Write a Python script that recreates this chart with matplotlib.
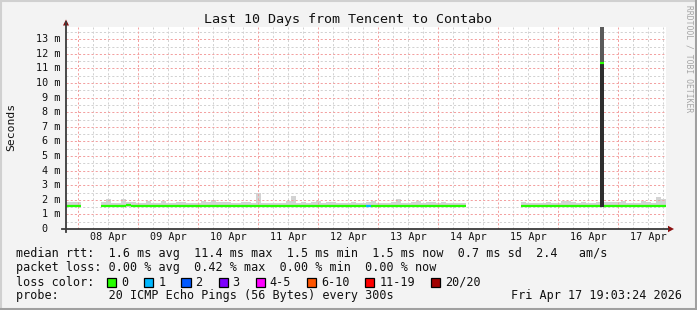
import numpy as np
import matplotlib
matplotlib.use("Agg")
import matplotlib.pyplot as plt
from matplotlib.patches import Rectangle, Polygon
from matplotlib.lines import Line2D

# ---------------- data ----------------
title = "Last 10 Days from Tencent to Contabo"
ylabel = "Seconds"
day_labels = ["08 Apr", "09 Apr", "10 Apr", "11 Apr", "12 Apr",
              "13 Apr", "14 Apr", "15 Apr", "16 Apr", "17 Apr"]
ytick_values = [0, 1, 2, 3, 4, 5, 6, 7, 8, 9, 10, 11, 12, 13]
ytick_labels = ["0  ", "1 m", "2 m", "3 m", "4 m", "5 m", "6 m", "7 m",
                "8 m", "9 m", "10 m", "11 m", "12 m", "13 m"]

# time in hours relative to 08 Apr 00:00
view_start_h = -4.94   # Apr 7 19:03:24
view_end_h = 235.06    # Apr 17 19:03:24
bin_first_h = -5
bin_len_h = 2

nan = np.nan
# median rtt per 2 h bin (ms), nan = no data
median_ms = [
    1.59, 1.59, 1.59, nan, nan, nan, nan, 1.59, 1.59, 1.59,
    1.59, 1.59, 1.62, 1.59, 1.59, 1.59, 1.59, 1.59, 1.59, 1.59,
    1.59, 1.59, 1.59, 1.59, 1.59, 1.59, 1.59, 1.59, 1.59, 1.59,
    1.59, 1.59, 1.59, 1.59, 1.59, 1.59, 1.59, 1.59, 1.59, 1.59,
    1.59, 1.59, 1.59, 1.59, 1.59, 1.59, 1.59, 1.59, 1.59, 1.59,
    1.59, 1.59, 1.59, 1.59, 1.59, 1.59, 1.59, 1.59, 1.59, 1.59,
    1.59, 1.59, 1.59, 1.59, 1.59, 1.59, 1.59, 1.59, 1.59, 1.59,
    1.59, 1.59, 1.59, 1.59, 1.59, 1.59, 1.59, 1.59, 1.59, 1.59,
    nan, nan, nan, nan, nan, nan, nan, nan, nan, nan,
    nan, 1.59, 1.59, 1.59, 1.59, 1.59, 1.59, 1.59, 1.59, 1.59,
    1.59, 1.59, 1.59, 1.59, 1.59, 1.59, 1.59, 1.59, 1.59, 1.59,
    1.59, 1.59, 1.59, 1.59, 1.59, 1.59, 1.59, 1.59, 1.59, 1.59,
]
# upper edge of the smoke per bin (ms)
smoke_top_ms = [
    1.87, 1.83, 1.83, nan, nan, nan, nan, 1.85, 2.03, 1.78,
    1.78, 2.08, 1.83, 1.83, 1.80, 1.76, 1.94, 1.76, 1.78, 1.90,
    1.80, 1.78, 1.83, 1.87, 1.80, 1.80, 1.80, 1.90, 1.87, 1.99,
    1.85, 1.83, 1.82, 1.80, 1.80, 1.85, 1.82, 1.78, 2.49, 1.78,
    1.76, 1.78, 1.80, 1.78, 1.90, 2.26, 1.80, 1.85, 1.80, 1.85,
    1.93, 1.80, 1.85, 1.85, 1.78, 1.80, 1.78, 1.85, 1.80, 1.78,
    1.85, 1.93, 1.80, 1.78, 1.80, 1.82, 2.03, 1.80, 1.80, 1.86,
    1.90, 1.80, 1.82, 1.85, 1.80, 1.84, 1.80, 1.78, 1.80, 1.78,
    nan, nan, nan, nan, nan, nan, nan, nan, nan, nan,
    nan, 1.85, 1.78, 1.78, 1.80, 1.78, 1.85, 1.80, 1.80, 1.90,
    1.90, 1.88, 1.80, 1.82, 1.80, 1.80, 1.82, 1.87, 1.87, 1.85,
    1.84, 1.94, 1.80, 1.78, 1.80, 1.94, 1.82, 1.80, 2.19, 2.05,
]
# lost pings (of 20) per bin
loss_count = [0] * 60 + [1] + [0] * 59

# single outlier burst on 16 Apr
spike_start_h = [208.8]
spike_end_h = [210.2]
spike_median_ms = [11.4]
spike_max_ms = [14.5]

legend_rows = [
    "median rtt:  1.6 ms avg  11.4 ms max  1.5 ms min  1.5 ms now  0.7 ms sd  2.4   am/s",
    "packet loss: 0.00 % avg  0.42 % max  0.00 % min  0.00 % now",
]
loss_labels = ["0", "1", "2", "3", "4-5", "6-10", "11-19", "20/20"]
loss_colors = ["#26ff00", "#00b8ff", "#0059ff", "#7e00ff", "#ff00ff",
               "#ff5500", "#ff0000", "#a10000"]
loss_bins = [0, 1, 2, 3, 5, 10, 19, 20]  # upper bound of each class
probe_text = "probe:       20 ICMP Echo Pings (56 Bytes) every 300s"
date_text = "Fri Apr 17 19:03:24 2026"
watermark = "RRDTOOL / TOBI OETIKER"

# ---------------- figure ----------------
W, H = 697, 310
BG = "#f3f3f3"
MONO = "DejaVu Sans Mono"
plt.rcParams["font.family"] = MONO
plt.rcParams["lines.scale_dashes"] = False

fig = plt.figure(figsize=(W / 100, H / 100), dpi=100, facecolor=BG)


def fx(x):
    return x / W


def fy(y):
    return 1 - y / H


PL, PR, PT, PB = 66, 666, 27, 229
ax = fig.add_axes([fx(PL), fy(PB), fx(PR - PL), (PB - PT) / H])
ax.set_facecolor("white")
ax.set_xlim(view_start_h, view_end_h)
px_per_ms = 14.6
ax.set_ylim(0, (PB - PT) / px_per_ms)
for s in ax.spines.values():
    s.set_visible(False)
ax.set_xticks([])
ax.set_yticks([])

hours = bin_first_h + bin_len_h * np.arange(len(median_ms))
med = np.array(median_ms, dtype=float)
top = np.array(smoke_top_ms, dtype=float)

# smoke
for h, m, t in zip(hours, med, top):
    if np.isnan(m):
        continue
    ax.add_patch(Rectangle((h, m - 0.08), bin_len_h, t - m + 0.08,
                           facecolor="#d3d3d3", edgecolor="none",
                           zorder=1, linewidth=0))

# grid (drawn over smoke)
xmin, xmax = ax.get_xlim()
ymin, ymax = ax.get_ylim()
minor_x = [h for h in range(-6, 240, 6) if h % 24 != 0 and xmin < h < xmax]
major_x = [h for h in range(0, 240, 24) if xmin < h < xmax]
minor_y = [v + 0.5 for v in range(0, 14) if v + 0.5 < ymax]
major_y = [v for v in ytick_values if v > 0]
dash = (0, (1.5, 1.5))
for h in minor_x:
    ax.axvline(h, color="#d2d2d2", lw=0.72, ls=dash, zorder=2)
for v in minor_y:
    ax.axhline(v, color="#d2d2d2", lw=0.72, ls=dash, zorder=2)
for h in major_x:
    ax.axvline(h, color="#f3a0a0", lw=0.72, ls=dash, zorder=2.1)
for v in major_y:
    ax.axhline(v, color="#f3a0a0", lw=0.72, ls=dash, zorder=2.1)


def loss_color(n):
    for b, c in zip(loss_bins, loss_colors):
        if n <= b:
            return c
    return loss_colors[-1]


# median line coloured by loss
for h, m, n in zip(hours, med, loss_count):
    if np.isnan(m):
        continue
    ax.hlines(m, h, h + bin_len_h, colors=loss_color(n), lw=1.6,
              zorder=3, capstyle="butt")

# outlier burst
for s0, s1, m, mx in zip(spike_start_h, spike_end_h, spike_median_ms, spike_max_ms):
    ax.add_patch(Rectangle((s0, m), s1 - s0, mx - m, facecolor="#5a5a5a",
                           edgecolor="none", zorder=4))
    ax.add_patch(Rectangle((s0, 1.5), s1 - s0, m - 1.5, facecolor="#2e2e2e",
                           edgecolor="none", zorder=4))
    ax.hlines(m, s0, s1, colors=loss_colors[0], lw=1.6, zorder=5,
              capstyle="butt")

# ---------------- axes decoration ----------------
AX_COL = "#3a3a3a"
ARROW = "#8b1010"
fig.add_artist(Line2D([fx(PL), fx(PL)], [fy(PB + 3), fy(PT - 5)],
                      color=AX_COL, lw=1.3, transform=fig.transFigure))
fig.add_artist(Line2D([fx(PL - 4), fx(PR + 2)], [fy(PB), fy(PB)],
                      color=AX_COL, lw=1.3, transform=fig.transFigure))
fig.add_artist(Polygon([(fx(PL - 3), fy(PT - 1.5)), (fx(PL + 3), fy(PT - 1.5)),
                        (fx(PL), fy(PT - 7.5))], closed=True,
                       facecolor=ARROW, edgecolor="none",
                       transform=fig.transFigure))
fig.add_artist(Polygon([(fx(PR + 2), fy(PB - 3.2)), (fx(PR + 2), fy(PB + 3.2)),
                        (fx(PR + 8), fy(PB))], closed=True,
                       facecolor=ARROW, edgecolor="none",
                       transform=fig.transFigure))

# y tick labels
for v, lab in zip(ytick_values, ytick_labels):
    ypix = PB - v * px_per_ms
    fig.text(fx(60.5), fy(ypix), lab, ha="right", va="center",
             fontsize=7.3, family=MONO, color="#111111")

# x tick labels (centred at noon)
for i, lab in enumerate(day_labels):
    h = 12 + 24 * i
    xpix = PL + (h - view_start_h) / (view_end_h - view_start_h) * (PR - PL)
    fig.text(fx(xpix), fy(237.5), lab, ha="center", va="center",
             fontsize=7.3, family=MONO, color="#111111")

# title / axis label / watermark
fig.text(fx(348), fy(19.5), title, ha="center", va="center",
         fontsize=9.6, family=MONO, color="#111111")
fig.text(fx(11), fy(127), ylabel, ha="center", va="center", rotation=90,
         fontsize=8.2, family=MONO, color="#111111")
fig.text(fx(688.5), fy(5), watermark, ha="center", va="top", rotation=-90,
         fontsize=5.8, family=MONO, color="#a5a5a5")

# legend
CW = 7.1
LFS = 8.5
rows_y = [254, 268, 282, 296]
for txt, yy in zip(legend_rows, rows_y[:2]):
    fig.text(fx(16), fy(yy), txt, ha="left", va="center", fontsize=LFS,
             family=MONO, color="#111111")
fig.text(fx(16), fy(rows_y[2]), "loss color:", ha="left", va="center",
         fontsize=LFS, family=MONO, color="#111111")
sx = 16 + 13 * CW - 1
for lab, col in zip(loss_labels, loss_colors):
    fig.add_artist(Rectangle((fx(sx), fy(rows_y[2] + 4.5)), 9 / W, 9 / H,
                             facecolor=col, edgecolor="black", lw=0.9,
                             transform=fig.transFigure))
    tx = sx + 14
    fig.text(fx(tx), fy(rows_y[2]), lab, ha="left", va="center",
             fontsize=LFS, family=MONO, color="#111111")
    sx = tx + len(lab) * CW + 16
fig.text(fx(16), fy(rows_y[3]), probe_text, ha="left", va="center",
         fontsize=LFS, family=MONO, color="#111111")
fig.text(fx(682), fy(rows_y[3]), date_text, ha="right", va="center",
         fontsize=LFS, family=MONO, color="#111111")

# 3-D frame
fig.add_artist(Line2D([0, 1], [fy(1), fy(1)], color="#d0d0d0", lw=1.5,
                      transform=fig.transFigure))
fig.add_artist(Line2D([fx(1), fx(1)], [0, 1], color="#d0d0d0", lw=1.5,
                      transform=fig.transFigure))
fig.add_artist(Line2D([0, 1], [fy(H - 1.5), fy(H - 1.5)], color="#a0a0a0",
                      lw=2.2, transform=fig.transFigure))
fig.add_artist(Line2D([fx(W - 1.5), fx(W - 1.5)], [0, 1], color="#a0a0a0",
                      lw=2.2, transform=fig.transFigure))

fig.savefig("out.png", dpi=100, facecolor=BG)
